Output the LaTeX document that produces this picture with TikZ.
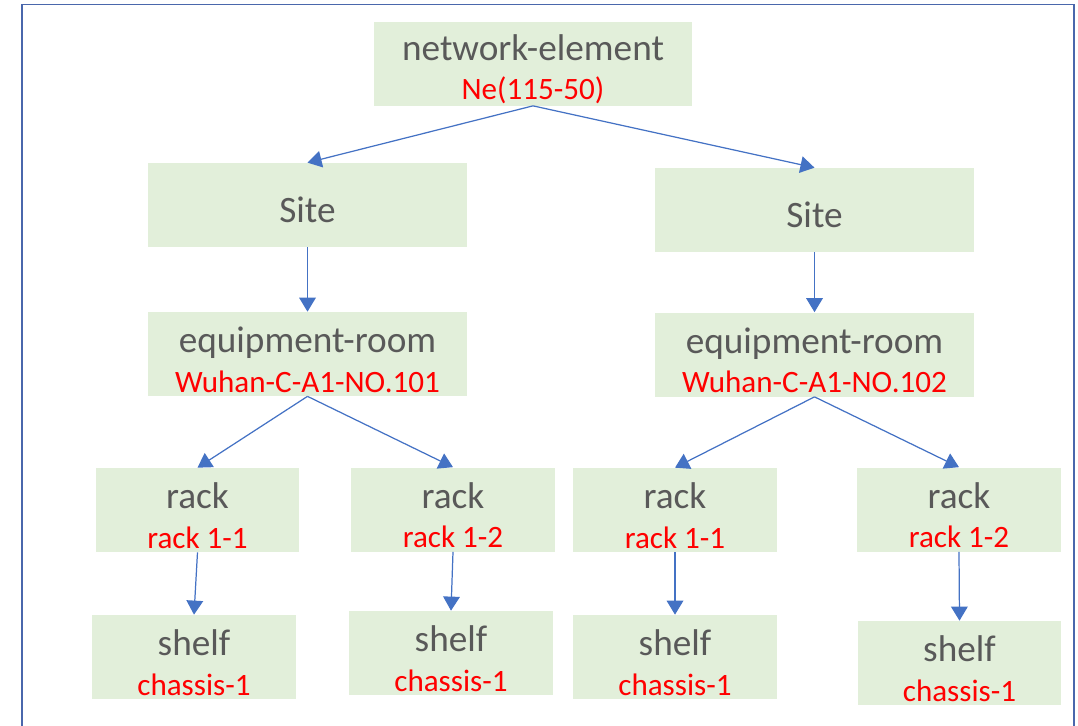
\documentclass[tikz,border=0pt]{standalone}
\usepackage{fontspec}
\setmainfont{Carlito}
\usetikzlibrary{arrows.meta}

\definecolor{boxgreen}{HTML}{E2EFDA}
\definecolor{labelgray}{HTML}{595959}
\definecolor{linkblue}{HTML}{4472C4}
\definecolor{frameblue}{HTML}{4A67AC}
\definecolor{tagred}{HTML}{FF0000}

% second line of a box, in red
\newcommand{\tagline}[1]{{\color{tagred}\fontsize{17.7}{22.5}\selectfont #1}}
% first line of a box, pushed down a little
\newcommand{\headline}[1]{\rule{0pt}{21pt}#1}

\tikzset{
  box/.style={fill=boxgreen, text=labelgray, minimum width=4.08cm, minimum height=1.68cm,
    inner sep=0pt, align=center, font=\fontsize{21.2}{22.5}\selectfont},
  widebox/.style={box, minimum width=6.38cm},
  link/.style={draw=linkblue, line width=0.7pt, -{Triangle[width=9.5pt,length=8pt]}}
}

\begin{document}
\begin{tikzpicture}[x=0.02cm, y=-0.02cm]

  \useasboundingbox (0,0) rectangle (1078,725);

  % Outer frame, open at the bottom
  \draw[frameblue, line width=1pt] (22,726) -- (22,4.5) -- (1074,4.5) -- (1074,726);

  % Top level
  \node[widebox] (ne) at (533,63.5) {\headline{network-element}\\\tagline{Ne(115-50)}};

  % Sites
  \node[widebox] (siteL) at (307.5,205) {\rule{0pt}{20pt}Site};
  \node[widebox] (siteR) at (814.5,210) {\rule{0pt}{20pt}Site};

  % Equipment rooms
  \node[widebox] (roomL) at (307.5,354) {\headline{equipment-room}\\\tagline{Wuhan-C-A1-NO.101}};
  \node[widebox] (roomR) at (814.5,354.5) {\headline{equipment-room}\\\tagline{Wuhan-C-A1-NO.102}};

  % Racks
  \node[box] (rackLa) at (197.5,510) {\headline{rack}\\\tagline{rack 1-1}};
  \node[box] (rackLb) at (453,509.5) {\headline{rack}\\\tagline{rack 1-2}};
  \node[box] (rackRa) at (675,510) {\headline{rack}\\\tagline{rack 1-1}};
  \node[box] (rackRb) at (959,509.5) {\headline{rack}\\\tagline{rack 1-2}};

  % Shelves
  \node[box] (shelfLa) at (194,657) {\headline{shelf}\\\tagline{chassis-1}};
  \node[box] (shelfLb) at (451,653) {\headline{shelf}\\\tagline{chassis-1}};
  \node[box] (shelfRa) at (675,657) {\headline{shelf}\\\tagline{chassis-1}};
  \node[box] (shelfRb) at (959.5,663) {\headline{shelf}\\\tagline{chassis-1}};

  % Connectors
  \draw[link] (ne.south) -- (siteL.north);
  \draw[link] (ne.south) -- (siteR.north);
  \draw[link] (siteL.south) -- (roomL.north);
  \draw[link] (siteR.south) -- (roomR.north);
  \draw[link] (roomL.south) -- (rackLa.north);
  \draw[link] (roomL.south) -- (rackLb.north);
  \draw[link] (roomR.south) -- (rackRa.north);
  \draw[link] (roomR.south) -- (rackRb.north);
  \draw[link] (rackLa.south) -- (shelfLa.north);
  \draw[link] (rackLb.south) -- (shelfLb.north);
  \draw[link] (rackRa.south) -- (shelfRa.north);
  \draw[link] (rackRb.south) -- (shelfRb.north);

\end{tikzpicture}
\end{document}
